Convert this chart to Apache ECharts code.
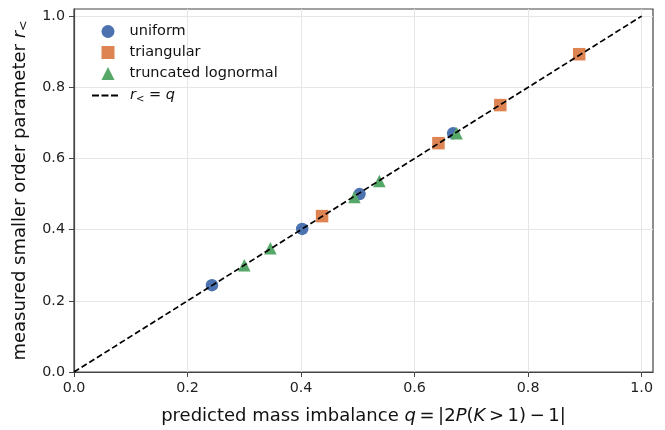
<!DOCTYPE html>
<html><head><meta charset="utf-8">
<script src="https://cdn.jsdelivr.net/npm/echarts@6/dist/echarts.min.js"></script>
<style>html,body{margin:0;padding:0;background:#fff}#c{width:665px;height:430px}</style>
</head><body><div id="c"></div>
<script>
const tickValues = [0, 0.2, 0.4, 0.6, 0.8, 1.0];
const uniformX = [0.243, 0.402, 0.503, 0.668];
const uniformY = [0.244, 0.402, 0.500, 0.671];
const triangularX = [0.437, 0.642, 0.751, 0.890];
const triangularY = [0.438, 0.643, 0.750, 0.893];
const lognormalX = [0.300, 0.346, 0.494, 0.538, 0.674];
const lognormalY = [0.300, 0.348, 0.492, 0.537, 0.671];
const refLineX = [0, 1];
const refLineY = [0, 1];

const zip = (a, b) => a.map((v, i) => [v, b[i]]);
const font = 'DejaVu Sans';
const axisCommon = {
  type: 'value', min: 0, max: 1.02,
  axisLine: { show: true, lineStyle: { color: '#444', width: 1.2 } },
  axisTick: { show: true, customValues: tickValues, length: 5, lineStyle: { color: '#444', width: 1 } },
  axisLabel: { customValues: tickValues, formatter: v => v.toFixed(1), color: '#222', fontFamily: font, fontSize: 14.3, margin: 9 },
  splitLine: { show: true, lineStyle: { color: '#e6e6e6', width: 1 } },
  nameLocation: 'middle'
};
const legendText = { fontFamily: font, fontSize: 14.5, color: '#111' };
const chart = echarts.init(document.getElementById('c'), null, { renderer: 'canvas' });
chart.setOption({
  animation: false,
  backgroundColor: '#fff',
  grid: { left: 74, right: 12, top: 9, bottom: 58, containLabel: false, outerBoundsMode: 'none',
    show: true, borderColor: '#444', borderWidth: 1.2, backgroundColor: 'transparent' },
  xAxis: Object.assign({}, axisCommon, {
    name: '{n|predicted mass imbalance }{i|q}{n|\u2009=\u2009|2}{i|P}{n|(}{i|K}{n|\u2009>\u20091)\u2009−\u20091|}',
    nameGap: 35,
    nameTextStyle: { rich: {
      n: { fontFamily: font, fontSize: 18, color: '#111' },
      i: { fontFamily: font, fontSize: 18, fontStyle: 'italic', color: '#111' } } }
  }),
  yAxis: Object.assign({}, axisCommon, {
    name: '{n|measured smaller order parameter }{i|r}{s|<}',
    nameGap: 44,
    nameTextStyle: { rich: {
      n: { fontFamily: font, fontSize: 18, color: '#111' },
      i: { fontFamily: font, fontSize: 18, fontStyle: 'italic', color: '#111' },
      s: { fontFamily: font, fontSize: 12.5, color: '#111', padding: [7, 0, 0, 0] } } }
  }),
  legend: [{
    orient: 'vertical', left: 96.5, top: 19, itemGap: 6, itemWidth: 13, itemHeight: 13,
    textStyle: Object.assign({}, legendText, { padding: [0, 0, 0, 10] }),
    data: [
      { name: 'uniform', icon: 'circle' },
      { name: 'triangular', icon: 'rect' },
      { name: 'truncated lognormal', icon: 'triangle' }
    ]
  }, {
    orient: 'vertical', left: 87, top: 83, itemWidth: 26, itemHeight: 2,
    textStyle: Object.assign({}, legendText, { padding: [0, 0, 0, 7],
      rich: { i: Object.assign({}, legendText, { fontStyle: 'italic' }),
              s: Object.assign({}, legendText, { fontSize: 10, padding: [7, 0, 0, 0] }),
              n: legendText } }),
    formatter: () => '{i|r}{s|<}{n| = }{i|q}',
    data: [{ name: 'line', icon: 'path://M0,0h7v2h-7zM9.5,0h7v2h-7zM19,0h7v2h-7z', itemStyle: { color: '#000' } }]
  }],
  series: [
    { name: 'line', type: 'line', data: zip(refLineX, refLineY), symbol: 'none', z: 3,
      lineStyle: { color: '#000', width: 1.7, type: [6, 3] }, itemStyle: { color: '#000' } },
    { name: 'uniform', type: 'scatter', data: zip(uniformX, uniformY), symbol: 'circle', symbolSize: 12.5, z: 2,
      itemStyle: { color: '#4c72b0', opacity: 1 } },
    { name: 'triangular', type: 'scatter', data: zip(triangularX, triangularY), symbol: 'rect', symbolSize: 12.5, z: 2,
      itemStyle: { color: '#dd8452', opacity: 1 } },
    { name: 'truncated lognormal', type: 'scatter', data: zip(lognormalX, lognormalY), symbol: 'triangle', symbolSize: 12.5, z: 2,
      itemStyle: { color: '#55a868', opacity: 1 } }
  ]
});
</script></body></html>
